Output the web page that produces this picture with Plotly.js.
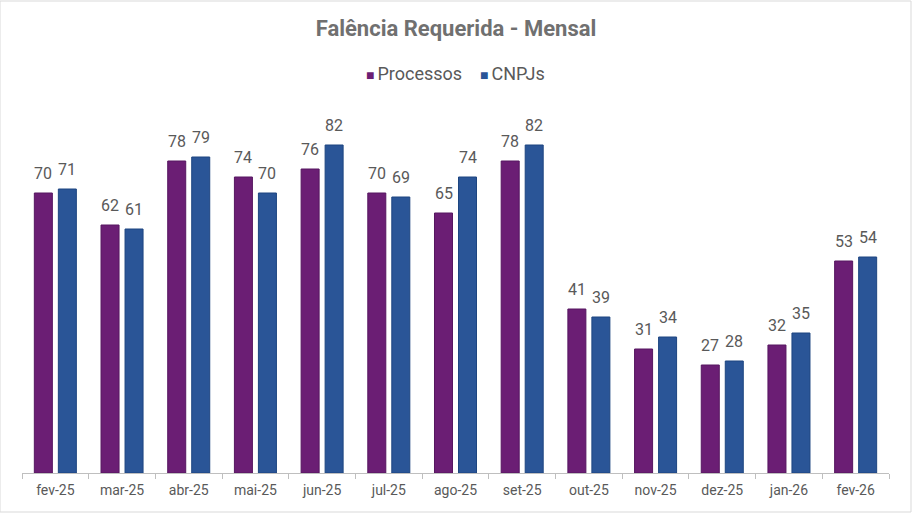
<!DOCTYPE html>
<html>
<head>
<meta charset="utf-8">
<script src="https://cdn.plot.ly/plotly-3.0.1.min.js"></script>
<style>
  html, body { margin: 0; padding: 0; background: #ffffff; }
  #chart { width: 912px; height: 513px; }
</style>
</head>
<body>
<div id="chart"></div>
<script>
// Monthly requested bankruptcies: filings vs. distinct companies (CNPJs)
const months = ["fev-25", "mar-25", "abr-25", "mai-25", "jun-25", "jul-25", "ago-25",
                "set-25", "out-25", "nov-25", "dez-25", "jan-26", "fev-26"];
const processos = [70, 62, 78, 74, 76, 70, 65, 78, 41, 31, 27, 32, 53];
const cnpjs     = [71, 61, 79, 70, 82, 69, 74, 82, 39, 34, 28, 35, 54];

const purple = "#6b1e74";
const blue = "#2a5597";
const labelFont = { family: "Roboto, Arial, sans-serif", size: 16, color: "#595959" };

const traces = [
  {
    type: "bar", name: "Processos", x: months, y: processos,
    marker: { color: purple, line: { color: "#561660", width: 1 } },
    hoverinfo: "skip"
  },
  {
    type: "bar", name: "CNPJs", x: months, y: cnpjs,
    marker: { color: blue, line: { color: "#1d4580", width: 1 } },
    hoverinfo: "skip"
  }
];

// Value labels above each bar, offset to the bar's slot within its group
const slotShift = 12;
const valueLabels = [];
months.forEach((m, i) => {
  valueLabels.push({
    x: m, y: processos[i], xref: "x", yref: "y", text: String(processos[i]),
    showarrow: false, xanchor: "center", yanchor: "bottom",
    xshift: -slotShift, yshift: 8, font: labelFont
  });
  valueLabels.push({
    x: m, y: cnpjs[i], xref: "x", yref: "y", text: String(cnpjs[i]),
    showarrow: false, xanchor: "center", yanchor: "bottom",
    xshift: slotShift, yshift: 8, font: labelFont
  });
});

// Legend line under the title
const legendNote = {
  xref: "paper", yref: "paper", x: 0.5, y: 1.075, xanchor: "center", yanchor: "middle",
  showarrow: false,
  text: "<span style='color:" + purple + ";font-size:14px'>■</span><span style='font-size:12px'>&nbsp;</span>Processos" +
        "&nbsp;&nbsp;&nbsp;&nbsp;" +
        "<span style='color:" + blue + ";font-size:14px'>■</span><span style='font-size:12px'>&nbsp;</span>CNPJs",
  font: { family: "Roboto, Arial, sans-serif", size: 18, color: "#595959" }
};

const layout = {
  width: 912, height: 513,
  paper_bgcolor: "#ffffff", plot_bgcolor: "#ffffff",
  font: { family: "Roboto, Arial, sans-serif", color: "#595959" },
  margin: { l: 22, r: 23, t: 101, b: 40 },
  title: {
    text: "<b>Falência Requerida - Mensal</b>",
    font: { family: "Roboto, Arial, sans-serif", size: 22, color: "#707070" },
    x: 0.5, xanchor: "center", y: 0.945, yanchor: "middle"
  },
  showlegend: false,
  barmode: "group", bargap: 0.28, bargroupgap: 0.25,
  xaxis: {
    type: "category", showgrid: false, zeroline: false,
    showline: true, linecolor: "#bfbfbf", linewidth: 1,
    ticks: "outside", tickson: "boundaries", ticklen: 5, tickcolor: "#bfbfbf",
    tickfont: { size: 14, color: "#595959" }, ticklabelstandoff: 4
  },
  yaxis: {
    range: [0, 93], visible: false, showgrid: false, zeroline: false, fixedrange: true
  },
  annotations: valueLabels.concat([legendNote]),
  shapes: [{
    type: "rect", xref: "paper", yref: "paper",
    x0: -22 / 867, x1: 1 + 22 / 867, y0: -39 / 372, y1: 1 + 100 / 372,
    line: { color: "#d9d9d9", width: 1 }, fillcolor: "rgba(0,0,0,0)"
  }]
};

Plotly.newPlot("chart", traces, layout, { displayModeBar: false, staticPlot: true });
</script>
</body>
</html>
